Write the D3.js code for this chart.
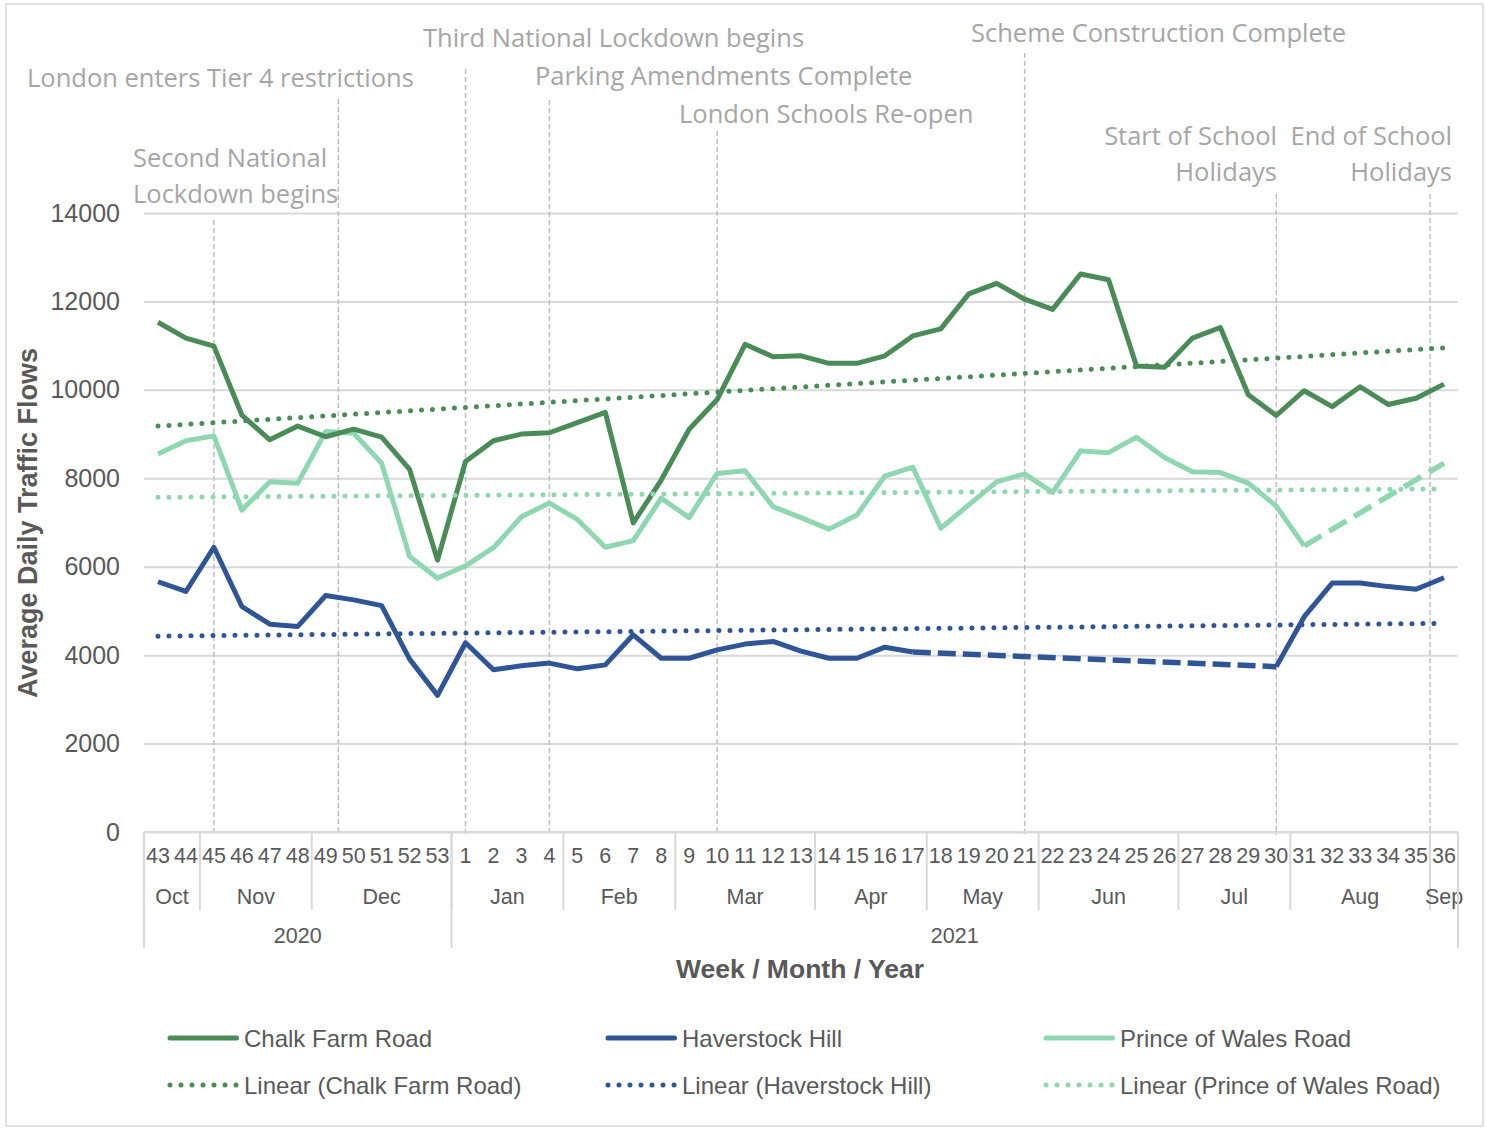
<!DOCTYPE html>
<html>
<head>
<meta charset="utf-8">
<script src="https://cdn.jsdelivr.net/npm/d3@7"></script>
<style>
  body { margin: 0; background: #fff; }
  svg { display: block; font-family: "Liberation Sans", Arial, sans-serif; }
</style>
</head>
<body>
<svg id="chart" width="1486" height="1130"></svg>
<script>
// week labels along the axis
const weeks = [43, 44, 45, 46, 47, 48, 49, 50, 51, 52, 53,
  1, 2, 3, 4, 5, 6, 7, 8, 9, 10, 11, 12, 13, 14, 15, 16, 17, 18,
  19, 20, 21, 22, 23, 24, 25, 26, 27, 28, 29, 30, 31, 32, 33, 34, 35, 36];
const months = ['Oct', 'Nov', 'Dec', 'Jan', 'Feb', 'Mar', 'Apr', 'May', 'Jun', 'Jul', 'Aug', 'Sep'];
const monthWeeks = [2, 4, 5, 4, 4, 5, 4, 4, 5, 4, 5, 1];
const years = ['2020', '2021'];
const yearWeeks = [11, 36];
const yTicks = [0, 2000, 4000, 6000, 8000, 10000, 12000, 14000];

const chalkFarm = [11530, 11170, 10990, 9430, 8870, 9180, 8940, 9110, 8930, 8200, 6150,
  8380, 8850, 9000, 9030, 9260, 9490, 6990, 7960, 9110, 9780, 11030, 10750, 10770, 10600,
  10600, 10770, 11220, 11380, 12170, 12410, 12050, 11820, 12620, 12490, 10540, 10510,
  11170, 11410, 9890, 9420, 9980, 9620, 10070, 9670, 9810, 10130];
const haverstock = [5660, 5440, 6440, 5100, 4700, 4650, 5350, 5250, 5120, 3910, 3090,
  4280, 3670, 3760, 3820, 3690, 3780, 4460, 3930, 3930, 4120, 4250, 4310, 4090, 3930,
  3930, 4180, 4070, null, null, null, null, null, null, null, null, null, null, null, null,
  3740, 4870, 5630, 5630, 5550, 5490, 5750];
const princeWales = [8550, 8850, 8960, 7280, 7920, 7890, 9060, 9020, 8340, 6230, 5740,
  6020, 6430, 7130, 7440, 7070, 6440, 6590, 7550, 7110, 8110, 8170, 7360, 7110, 6850,
  7170, 8050, 8250, 6870, 7400, 7920, 8100, 7680, 8620, 8580, 8930, 8470, 8150, 8130,
  7890, 7370, 6470, null, null, null, null, 8340];

// linear trend lines: value at first and last week
const trendChalk = [9180, 10950];
const trendHaver = [4430, 4720];
const trendPrince = [7570, 7760];

// events: position on the week axis (index) and label
const events = [
  { at: 2, label: ['Second National', 'Lockdown begins'] },
  { at: 6.45, label: ['London enters Tier 4 restrictions'] },
  { at: 11, label: ['Third National Lockdown begins'] },
  { at: 14, label: ['Parking Amendments Complete'] },
  { at: 20, label: ['London Schools Re-open'] },
  { at: 31, label: ['Scheme Construction Complete'] },
  { at: 40, label: ['Start of School', 'Holidays'] },
  { at: 45.5, label: ['End of School', 'Holidays'] }
];

// where each event label sits and where its line starts
const eventLayout = [
  { x: 133, y: 167, anchor: 'start', top: 220 },
  { x: 27, y: 87, anchor: 'start', top: 99 },
  { x: 423, y: 47, anchor: 'start', top: 69 },
  { x: 535, y: 85, anchor: 'start', top: 100 },
  { x: 679, y: 123, anchor: 'start', top: 131 },
  { x: 971, y: 42, anchor: 'start', top: 53 },
  { x: 1277, y: 145, anchor: 'end', top: 194 },
  { x: 1452, y: 145, anchor: 'end', top: 194 }
];

const colors = { chalk: '#4a8b58', haver: '#2f5597', prince: '#8fd7b0' };

const svg = d3.select('#chart');
const plotLeft = 144, plotRight = 1458, plotTop = 213, plotBottom = 832;

svg.append('rect')
  .attr('x', 6).attr('y', 4).attr('width', 1477).attr('height', 1122)
  .attr('fill', '#fff').attr('stroke', '#d9d9d9').attr('stroke-width', 1.5);

const x = d3.scaleBand().domain(d3.range(weeks.length)).range([plotLeft, plotRight]);
const bw = x.bandwidth();
const xc = i => x(0) + bw / 2 + i * bw;
const y = d3.scaleLinear().domain([0, 14000]).range([plotBottom, plotTop]);

// gridlines + y labels
const yAxis = svg.append('g')
  .attr('transform', `translate(${plotLeft},0)`)
  .call(d3.axisLeft(y).tickValues(yTicks).tickSize(-(plotRight - plotLeft)).tickPadding(24).tickFormat(d3.format('d')));
yAxis.select('.domain').remove();
yAxis.selectAll('.tick line').attr('stroke', '#d9d9d9').attr('stroke-width', 2);
yAxis.selectAll('.tick text').attr('fill', '#595959').attr('font-size', 25)
  .attr('font-family', '"Liberation Sans", Arial, sans-serif');

// event markers
const ev = svg.append('g');
events.forEach((e, k) => {
  const lay = eventLayout[k];
  ev.append('line')
    .attr('x1', xc(e.at)).attr('x2', xc(e.at))
    .attr('y1', lay.top).attr('y2', plotBottom + 3)
    .attr('stroke', '#bfbfbf').attr('stroke-width', 1.5).attr('stroke-dasharray', '5 3');
  e.label.forEach((t, j) => {
    ev.append('text')
      .attr('x', lay.x).attr('y', lay.y + j * 36)
      .attr('text-anchor', lay.anchor)
      .attr('font-family', '"Open Sans", sans-serif')
      .attr('font-size', 25.5)
      .attr('fill', '#a6a6a6')
      .text(t);
  });
});

// x axis: weeks / months / years
const axisColor = '#d9d9d9';
svg.append('line').attr('x1', plotLeft).attr('x2', plotRight).attr('y1', plotBottom).attr('y2', plotBottom)
  .attr('stroke', axisColor).attr('stroke-width', 2);

const xAxis = svg.append('g')
  .attr('transform', `translate(0,${plotBottom})`)
  .call(d3.axisBottom(x).tickSize(0).tickPadding(16).tickFormat(i => weeks[i]));
xAxis.select('.domain').remove();
xAxis.selectAll('.tick text').attr('fill', '#595959').attr('font-size', 21.5)
  .attr('font-family', '"Liberation Sans", Arial, sans-serif');

let start = 0;
months.forEach((m, k) => {
  const end = start + monthWeeks[k];
  svg.append('text')
    .attr('x', (x(start) + x(end - 1) + bw) / 2).attr('y', 904)
    .attr('text-anchor', 'middle').attr('fill', '#595959').attr('font-size', 21.5)
    .text(m);
  if (end < weeks.length) {
    svg.append('line').attr('x1', x(end)).attr('x2', x(end)).attr('y1', plotBottom).attr('y2', 910)
      .attr('stroke', axisColor).attr('stroke-width', 2);
  }
  start = end;
});

start = 0;
years.forEach((yr, k) => {
  const end = start + yearWeeks[k];
  svg.append('text')
    .attr('x', (x(start) + x(end - 1) + bw) / 2).attr('y', 943)
    .attr('text-anchor', 'middle').attr('fill', '#595959').attr('font-size', 21.5)
    .text(yr);
  svg.append('line').attr('x1', x(start)).attr('x2', x(start)).attr('y1', plotBottom).attr('y2', 948)
    .attr('stroke', axisColor).attr('stroke-width', 2);
  start = end;
});
svg.append('line').attr('x1', plotRight).attr('x2', plotRight).attr('y1', plotBottom).attr('y2', 948)
  .attr('stroke', axisColor).attr('stroke-width', 2);

// axis titles
svg.append('text')
  .attr('x', 800).attr('y', 978).attr('text-anchor', 'middle')
  .attr('font-size', 26.5).attr('font-weight', 'bold').attr('fill', '#595959')
  .text('Week / Month / Year');
svg.append('text')
  .attr('transform', 'translate(37,523) rotate(-90)').attr('text-anchor', 'middle')
  .attr('font-size', 27).attr('font-weight', 'bold').attr('fill', '#595959')
  .text('Average Daily Traffic Flows');

// trend lines
const plot = svg.append('g');
function trend(vals, color) {
  plot.append('line')
    .attr('x1', xc(0)).attr('x2', xc(weeks.length - 1))
    .attr('y1', y(vals[0])).attr('y2', y(vals[1]))
    .attr('stroke', color).attr('stroke-width', 5)
    .attr('stroke-linecap', 'round').attr('stroke-dasharray', '0 11');
}

const line = d3.line()
  .defined(d => d != null)
  .x((d, i) => xc(i))
  .y(d => y(d));

function series(vals, color, dash) {
  // dashed joins across missing weeks
  vals.forEach((v, i) => {
    if (v != null && i + 1 < vals.length && vals[i + 1] == null) {
      let j = i + 1;
      while (j < vals.length && vals[j] == null) j++;
      if (j < vals.length) {
        plot.append('line')
          .attr('x1', xc(i)).attr('y1', y(v))
          .attr('x2', xc(j)).attr('y2', y(vals[j]))
          .attr('stroke', color).attr('stroke-width', 5.5)
          .attr('stroke-dasharray', dash);
      }
    }
  });
  plot.append('path')
    .attr('d', line(vals))
    .attr('fill', 'none').attr('stroke', color).attr('stroke-width', 5)
    .attr('stroke-linejoin', 'round');
}

series(princeWales, colors.prince, '20 9');
series(haverstock, colors.haver, '18 7');
series(chalkFarm, colors.chalk, '18 7');
trend(trendChalk, colors.chalk);
trend(trendPrince, colors.prince);
trend(trendHaver, colors.haver);

// legend
const legendItems = [
  { name: 'Chalk Farm Road', color: colors.chalk, dotted: false },
  { name: 'Haverstock Hill', color: colors.haver, dotted: false },
  { name: 'Prince of Wales Road', color: colors.prince, dotted: false },
  { name: 'Linear (Chalk Farm Road)', color: colors.chalk, dotted: true },
  { name: 'Linear (Haverstock Hill)', color: colors.haver, dotted: true },
  { name: 'Linear (Prince of Wales Road)', color: colors.prince, dotted: true }
];
const legendX = [168, 606, 1044];
const legendY = [1038, 1085];
legendItems.forEach((d, k) => {
  const lx = legendX[k % 3], ly = legendY[Math.floor(k / 3)];
  const g = svg.append('g');
  g.append('line')
    .attr('x1', lx + 2).attr('x2', lx + 68.5).attr('y1', ly).attr('y2', ly)
    .attr('stroke', d.color).attr('stroke-width', 5).attr('stroke-linecap', 'round')
    .attr('stroke-dasharray', d.dotted ? '0 11' : null);
  g.append('text')
    .attr('x', lx + 76).attr('y', ly + 8.5)
    .attr('font-size', 24).attr('fill', '#595959')
    .text(d.name);
});
</script>
</body>
</html>
